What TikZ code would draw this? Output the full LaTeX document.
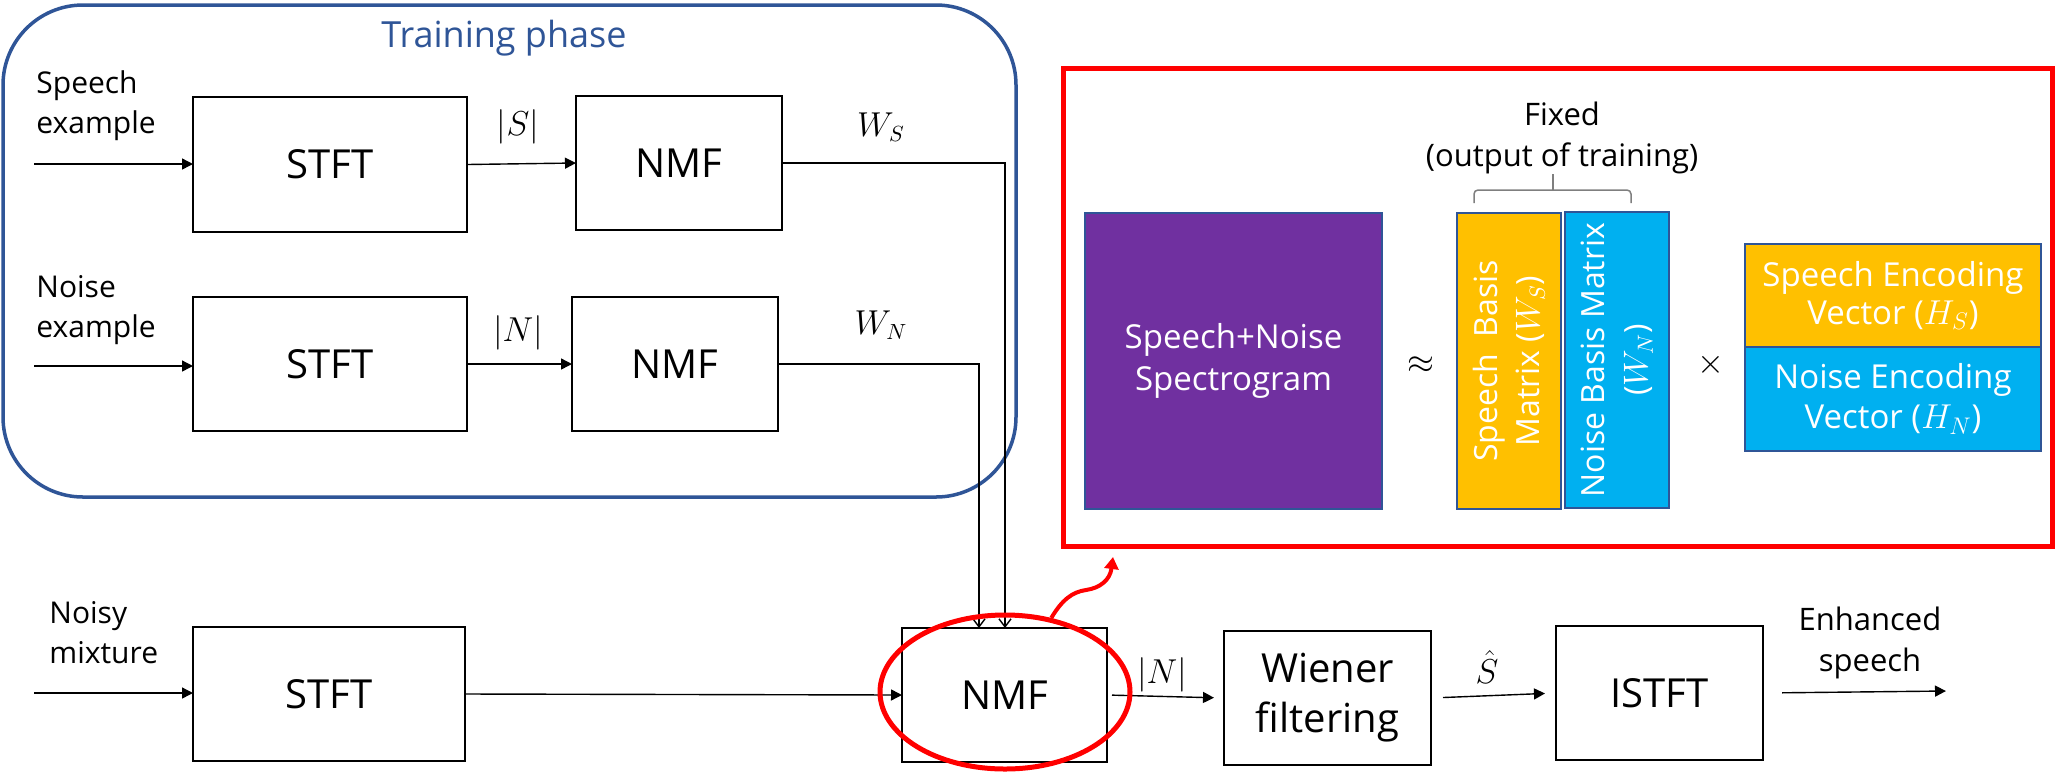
\documentclass[tikz,border=0pt]{standalone}
\usepackage{fontspec}
\setmainfont{Open Sans}
\usetikzlibrary{arrows.meta,shapes.geometric}
\definecolor{tblue}{HTML}{2F5597}
\definecolor{purp}{HTML}{7030A0}
\definecolor{yel}{HTML}{FFC000}
\definecolor{cyn}{HTML}{00B0F0}
\definecolor{redc}{HTML}{FF0000}
\definecolor{brgray}{HTML}{7F7F7F}
\begin{document}
\begin{tikzpicture}[x=0.5pt,y=-0.5pt,
  blk/.style={draw=black, line width=1.25pt, inner sep=0pt, outer sep=0pt, align=center, font=\fontsize{20}{25}\selectfont},
  conn/.style={line width=0.7pt, -{Triangle[length=5.5pt,width=5.5pt]}},
  feed/.style={line width=0.7pt, -{Straight Barb[length=4pt,width=6pt]}},
  lbl/.style={inner sep=0pt, align=left, font=\fontsize{15}{20}\selectfont},
  clbl/.style={inner sep=0pt, align=center, font=\fontsize{15.5}{20.5}\selectfont},
  mlbl/.style={inner sep=0pt, font=\fontsize{16}{20}\selectfont},
  mat/.style={draw=tblue, line width=0.8pt, inner sep=0pt, outer sep=0pt, text=white, align=center, font=\fontsize{16.5}{21}\selectfont},
]
\useasboundingbox (0,0) rectangle (2063,773);

% training phase frame
\node[draw=tblue, line width=1.75pt, rounded corners=40pt, minimum width=506.5pt, minimum height=246pt, inner sep=0pt] (train) at (509.5,251) {};
\node[inner sep=0pt, text=tblue, font=\fontsize{18}{22}\selectfont] (traintitle) at (504,38) {Training phase};

% blocks
\node[blk, minimum width=137pt, minimum height=67.5pt] (stft1) at (330,164.5) {STFT};
\node[blk, minimum width=103pt, minimum height=67pt] (nmf1) at (679,163) {NMF};
\node[blk, minimum width=137pt, minimum height=67pt] (stft2) at (330,364) {STFT};
\node[blk, minimum width=103pt, minimum height=67pt] (nmf2) at (675,364) {NMF};
\node[blk, minimum width=136pt, minimum height=67pt] (stft3) at (329,694) {STFT};
\node[blk, minimum width=102.5pt, minimum height=67pt] (nmf3) at (1004.5,695) {NMF};
\node[blk, minimum width=103.5pt, minimum height=67pt] (wiener) at (1327.5,698) {Wiener\\filtering};
\node[blk, minimum width=103.5pt, minimum height=67pt] (istft) at (1659.5,693) {ISTFT};

% input / output labels
\node[lbl, anchor=west] (sptxt) at (36,106) {Speech\\example};
\node[lbl, anchor=west] (notxt) at (36,310) {Noise\\example};
\node[lbl, anchor=west] (mixtxt) at (49,633) {Noisy\\mixture};
\node[clbl] (enhtxt) at (1870,643) {Enhanced\\speech};

% free ends
\coordinate (spin) at (34,164);
\coordinate (noin) at (34,366);
\coordinate (mixin) at (34,693);
\coordinate (out) at (1946,691);
\coordinate (wsx) at (1005,0);
\coordinate (wnx) at (979,0);
\coordinate (redtip) at (1113,557);

% connectors
\draw[conn] (spin) -- (spin -| stft1.west);
\draw[conn] (stft1.east) -- (nmf1.west);
\draw[conn] (noin) -- (noin -| stft2.west);
\draw[conn] (stft2.east) -- (nmf2.west);
\draw[feed] (nmf1.east) -| (wsx |- nmf3.north);
\draw[feed] (nmf2.east) -| (wnx |- nmf3.north);
\draw[conn] (mixin) -- (mixin -| stft3.west);
\draw[conn] (stft3.east) -- (nmf3.west);
\draw[conn, shorten <=2.5pt, shorten >=5pt] (nmf3.east) -- (wiener.west);
\draw[conn, shorten <=6pt, shorten >=5.5pt] (wiener.east) -- (istft.west);
\draw[conn, shorten <=9.5pt] (istft.east) -- (out);

% connector labels
\node[mlbl] (lS) at (518,127) {$|S|$};
\node[mlbl] (lN) at (518,333) {$|N|$};
\node[mlbl] (lWS) at (881,127) {$W_S$};
\node[mlbl] (lWN) at (881,325) {$W_N$};
\node[mlbl] (lN2) at (1162,675) {$|N|$};
\node[mlbl] (lSh) at (1487,667) {$\hat{S}$};

% highlight
\node[draw=redc, line width=2.5pt, ellipse, minimum width=125pt, minimum height=77pt, inner sep=0pt] (hl) at (1005,692) {};
\draw[redc, line width=2pt, -{Triangle[length=6pt,width=7pt]}] (hl.58) .. controls (1062,600) and (1072,592) .. (1086,590) .. controls (1100,588) and (1110,580) .. (redtip);

% right panel
\node[draw=redc, line width=2.5pt, minimum width=494.5pt, minimum height=239pt, inner sep=0pt] (panel) at (1557.5,307) {};

\node[mat, fill=purp, minimum width=148.5pt, minimum height=148pt] (spec) at (1233.5,361) {Speech+Noise\\Spectrogram};
\node[inner sep=0pt, font=\fontsize{16}{20}\selectfont] (approx) at (1421,365) {$\approx$};
\node[mat, fill=yel, rotate=90, minimum width=148pt, minimum height=52pt, font=\fontsize{16}{21}\selectfont] (wsm) at (1509,361) {Speech\ \ Basis\\Matrix ($W_S$)};
\node[mat, fill=cyn, rotate=90, minimum width=148pt, minimum height=52pt, font=\fontsize{16}{21.5}\selectfont] (wnm) at (1617,360) {Noise Basis Matrix\\($W_N$)};
\node[inner sep=0pt, font=\fontsize{18}{20}\selectfont] (times) at (1711,365) {$\times$};
\node[mat, fill=yel, minimum width=148pt, minimum height=51.5pt, font=\fontsize{16.5}{19}\selectfont] (hs) at (1893,295.5) {Speech Encoding\\Vector ($H_S$)};
\node[mat, fill=cyn, minimum width=148pt, minimum height=52pt, font=\fontsize{16.5}{20}\selectfont] (hn) at (1893,399) {Noise Encoding\\Vector ($H_N$)};

% brace and label
\draw[brgray, line width=0.75pt, rounded corners=2pt] (1474,203) -- (1474,190) -- (1631,190) -- (1631,203);
\draw[brgray, line width=0.75pt] (1553,190) -- (1553,174);
\node[clbl] (fixed) at (1562,138) {Fixed\\(output of training)};
\end{tikzpicture}
\end{document}
